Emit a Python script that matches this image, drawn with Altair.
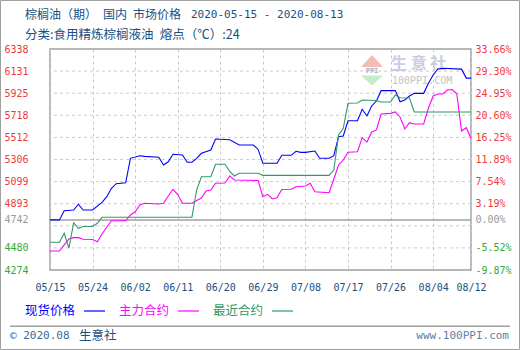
import altair as alt
import pandas as pd

# ---------------- data ----------------
TITLE_MAIN = "棕榈油（期）\u2002国内\u2002市场价格"
TITLE_DATES = "2020-05-15 - 2020-08-13"
SUBTITLE = "分类:食用精炼棕榈液油\u2002熔点（℃）:24"
SERIES = ["现货价格", "主力合约", "最近合约"]
COLORS = ["#0000ff", "#ff00ff", "#339966"]
BASE = 4742
Y_MIN, Y_MAX = 4274, 6338
GRID = [4274, 4480.4, 4686.8, 4893.2, 5099.6, 5306, 5512.4, 5718.8, 5925.2, 6131.6, 6338]
LABEL_TICKS = [4274, 4480.4, 4742, 4893.2, 5099.6, 5306, 5512.4, 5718.8, 5925.2, 6131.6, 6338]
X_TICKS = ["05-15", "05-24", "06-02", "06-11", "06-20", "06-29",
           "07-08", "07-17", "07-26", "08-04", "08-12"]
X_START, X_END = "05-15", "08-12"

spot_dates = ["05-15", "05-17", "05-18", "05-20", "05-21", "05-22", "05-24", "05-26", "05-27",
              "05-28", "05-29", "05-31", "06-01", "06-03", "06-04", "06-07", "06-08", "06-09",
              "06-10", "06-12", "06-13", "06-14", "06-15", "06-16", "06-18", "06-19", "06-22",
              "06-24", "06-27", "06-28", "06-29", "07-02", "07-03", "07-05", "07-06", "07-07",
              "07-08", "07-10", "07-11", "07-13", "07-14", "07-15", "07-16", "07-17", "07-19",
              "07-20", "07-21", "07-22", "07-23", "07-24", "07-27", "07-28", "07-29", "07-30",
              "07-31", "08-02", "08-03", "08-04", "08-05", "08-06", "08-10", "08-11", "08-12"]
spot_vals = [4742, 4742, 4828, 4834, 4888, 4834, 4834, 4906, 4959,
             5037, 5080, 5089, 5317, 5341, 5335, 5327, 5255, 5285,
             5355, 5348, 5280, 5280, 5317, 5364, 5395, 5497, 5490,
             5441, 5441, 5400, 5271, 5271, 5345, 5345, 5383, 5373,
             5373, 5385, 5317, 5317, 5341, 5519, 5526, 5668, 5668,
             5775, 5712, 5806, 5852, 5949, 5949, 5845, 5862, 5899,
             5924, 5924, 6018, 6095, 6151, 6158, 6150, 6066, 6066]

main_dates = ["05-15", "05-17", "05-18", "05-19", "05-20", "05-21", "05-22", "05-24", "05-25",
              "05-26", "05-27", "05-28", "05-31", "06-01", "06-02", "06-03", "06-04", "06-07",
              "06-08", "06-09", "06-10", "06-11", "06-12", "06-14", "06-15", "06-16", "06-17",
              "06-18", "06-19", "06-21", "06-22", "06-23", "06-28", "06-29", "06-30", "07-01",
              "07-02", "07-03", "07-05", "07-06", "07-08", "07-09", "07-10", "07-13", "07-14",
              "07-15", "07-16", "07-17", "07-19", "07-20", "07-21", "07-22", "07-23", "07-24",
              "07-26", "07-27", "07-28", "07-29", "07-30", "07-31", "08-02", "08-03", "08-04",
              "08-05", "08-06", "08-07", "08-08", "08-09", "08-10", "08-11", "08-12"]
main_vals = [4451, 4451, 4508, 4564, 4576, 4576, 4561, 4559, 4538,
             4610, 4673, 4734, 4734, 4788, 4818, 4881, 4897, 4890,
             4897, 4965, 5028, 4979, 4897, 4897, 4923, 4946, 5012,
             5021, 5084, 5087, 5152, 5115, 5110, 4959, 4981, 4937,
             4949, 5026, 5028, 5052, 5059, 5084, 5005, 4996, 5124,
             5255, 5301, 5373, 5379, 5510, 5469, 5563, 5582, 5731,
             5737, 5750, 5703, 5591, 5650, 5638, 5638, 5787, 5899,
             5918, 5918, 5955, 5960, 5920, 5572, 5603, 5504]

near_dates = ["05-15", "05-17", "05-18", "05-19", "05-20", "05-21", "05-22", "05-24", "05-25",
              "05-26", "06-14", "06-15", "06-16", "06-18", "06-19", "06-21", "06-22", "06-23",
              "06-24", "06-28", "06-29", "07-13", "07-14", "07-15", "07-16", "07-17", "07-19",
              "07-20", "07-23", "07-24", "07-26", "07-27", "07-28", "07-30", "07-31", "08-12"]
near_vals = [4533, 4533, 4617, 4478, 4716, 4663, 4680, 4680, 4710,
             4766, 4766, 5021, 5145, 5145, 5261, 5261, 5194, 5152,
             5177, 5177, 5158, 5158, 5208, 5535, 5597, 5831, 5834,
             5862, 5857, 5843, 5843, 5908, 5883, 5880, 5750, 5750]

# ---------------- styling ----------------
RED, GREEN, GRAY = "#f03a3a", "#33aa33", "#999999"
NAVY = "#1a5080"
MONO = "DejaVu Sans Mono"
CJK = "Noto Sans CJK SC"


def iso(md):
    return "2020-" + md + "T00:00:00"


def dt(md):
    return alt.DateTime(year=2020, month=int(md[:2]), date=int(md[3:]))


rows = []
for name, ds, vs in [(SERIES[0], spot_dates, spot_vals),
                     (SERIES[1], main_dates, main_vals),
                     (SERIES[2], near_dates, near_vals)]:
    for d, v in zip(ds, vs):
        rows.append({"date": iso(d), "value": v, "series": name})
df = pd.DataFrame(rows)

yscale = alt.Scale(domain=[Y_MIN, Y_MAX], nice=False, zero=False)
xscale = alt.Scale(domain=[dt(X_START), dt(X_END)])

label_color = {
    "condition": [
        {"test": "datum.value > %f" % (BASE + 1), "value": RED},
        {"test": "datum.value < %f" % (BASE - 1), "value": GREEN},
    ],
    "value": GRAY,
}

left_axis = alt.Axis(
    values=LABEL_TICKS, title=None, ticks=False, domain=False, grid=False,
    labelExpr="'' + floor(datum.value)", labelFont=MONO, labelFontSize=10,
    labelColor=label_color, labelPadding=22, labelOverlap=False,
)
right_axis = alt.Axis(
    orient="right", values=LABEL_TICKS, title=None, ticks=False, domain=False, grid=False,
    labelExpr="(datum.value < %d ? '-' : '') + format(abs(datum.value / %d - 1) * 100, '.2f') + '%%'" % (BASE - 1, BASE),
    labelFont=MONO, labelFontSize=10, labelColor=label_color, labelPadding=4,
    labelOverlap=False,
)
x_axis = alt.Axis(
    values=[dt(t) for t in X_TICKS], format="%m/%d", title=None, ticks=False,
    domain=False, grid=True, gridDash=[3, 3], gridColor="#c8c8c8", gridWidth=1,
    labelFont=MONO, labelFontSize=10, labelColor=NAVY, labelPadding=12,
    labelFlush=False, labelOverlap=False,
)

grid_df = pd.DataFrame({"v": [g for g in GRID if Y_MIN < g < Y_MAX]})
grid = alt.Chart(grid_df).mark_rule(color="#cccccc", strokeDash=[3, 3], strokeWidth=1).encode(
    y=alt.Y("v:Q", scale=yscale, axis=None)
)
baseline = alt.Chart(pd.DataFrame({"v": [BASE]})).mark_rule(color="#a0a0a0", strokeWidth=1.5).encode(
    y=alt.Y("v:Q", scale=yscale, axis=right_axis)
)

lines = alt.Chart(df).mark_line(strokeWidth=1.1).encode(
    x=alt.X("date:T", scale=xscale, axis=x_axis),
    y=alt.Y("value:Q", scale=yscale, axis=left_axis),
    color=alt.Color("series:N", scale=alt.Scale(domain=SERIES, range=COLORS), legend=None),
)


def txt(text, x, y, color, size=12.5, font=CJK, align="left", weight="normal"):
    return alt.Chart(pd.DataFrame({"t": [text]})).mark_text(
        align=align, baseline="middle", fontSize=size, font=font, color=color, fontWeight=weight
    ).encode(x=alt.value(x), y=alt.value(y), text="t:N")


def hline(x1, x2, y, color, width=1.0):
    return alt.Chart(pd.DataFrame({"a": [0]})).mark_rule(color=color, strokeWidth=width).encode(
        x=alt.value(x1), x2=alt.value(x2), y=alt.value(y)
    )


def tri(x, y, path, color):
    return alt.Chart(pd.DataFrame({"a": [0]})).mark_point(
        shape=path, size=484, filled=True, fill=color, strokeWidth=0, opacity=1
    ).encode(x=alt.value(x), y=alt.value(y))


# watermark (behind the lines)
watermark = [
    tri(322, 12, "M-1,0.55L1,0.55L0,-0.55Z", "#f5bcb4"),
    tri(322, 31.5, "M-1,-0.45L1,-0.45L0,0.45Z", "#c4ecc8"),
    txt("PPI", 322, 22, "#9fb0cc", size=7, font=MONO, align="center", weight="bold"),
    txt("生 意 社", 341, 14.5, "#c8cde2", size=16, weight="bold"),
    txt("100PPI.COM", 342, 31.5, "#c4c4c4", size=10, font=MONO),
]

titles = [
    txt(TITLE_MAIN, -25, -34, NAVY, size=12),
    txt(TITLE_DATES, 141, -34, NAVY, size=11, font=MONO),
    txt(SUBTITLE, -25, -14, NAVY),
]

legend = []
lx = [-25, 69, 163]
for i, name in enumerate(SERIES):
    legend.append(txt(name, lx[i], 262, COLORS[i]))
    legend.append(hline(lx[i] + 59, lx[i] + 80, 262, COLORS[i], 1.2))

footer = [
    hline(-40, 460, 277.3, "#a0a0a0", 1.5),
    txt("© 2020.08", -40, 287, "#3a6a98", size=11, font=MONO),
    txt("生意社", 29, 287, NAVY),
    txt("www.100PPI.com", 459, 287, "#5a82aa", size=11, font=MONO, align="right"),
]

frame = alt.Chart(pd.DataFrame({"a": [0]})).mark_rect(
    fillOpacity=0, stroke="#a0a0a0", strokeWidth=1
).encode(x=alt.value(-49.5), x2=alt.value(469.5), y=alt.value(-48.5), y2=alt.value(300.5))

chart = alt.layer(
    grid, baseline, *watermark, lines, *titles, *legend, *footer, frame
).resolve_scale(y="shared").resolve_axis(y="independent").properties(
    width=421, height=221, autosize="none",
    padding={"left": 50, "top": 49, "right": 49, "bottom": 80},
    background="white",
).configure_view(stroke="#a0a0a0", strokeWidth=1.5)

chart.save("out.html", embed_options={"renderer": "svg", "actions": False})
